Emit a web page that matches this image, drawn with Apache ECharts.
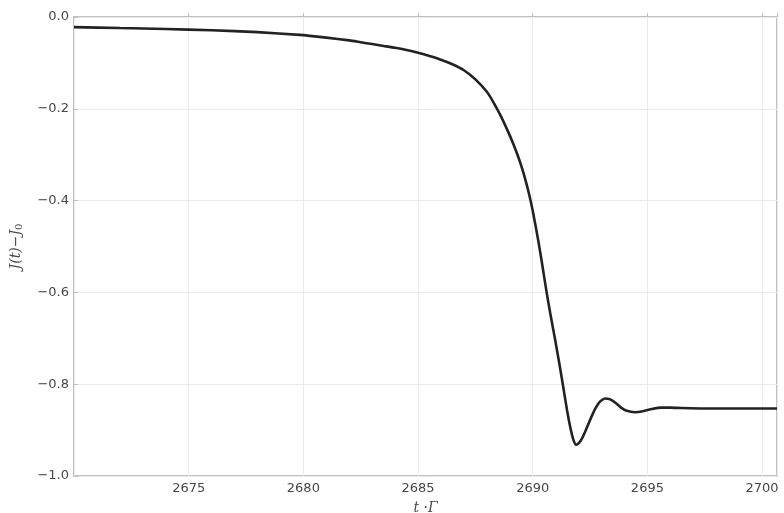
<!DOCTYPE html>
<html>
<head>
<meta charset="utf-8">
<script src="https://cdn.jsdelivr.net/npm/echarts@6/dist/echarts.min.js"></script>
<style>
  html, body { margin: 0; padding: 0; background: #fff; }
  #chart { width: 784px; height: 513px; }
</style>
</head>
<body>
<div id="chart"></div>
<script>
// Time samples (t·Γ) and the current difference J(t) − J0
const tValues = [
  2670.0, 2672.0, 2674.0, 2676.0, 2678.0, 2679.84, 2681.0, 2682.0, 2682.5, 2683.0,
  2683.5, 2684.0, 2684.5, 2685.0, 2685.5, 2686.0, 2686.5, 2687.0, 2687.5, 2688.0,
  2688.3, 2688.6, 2688.9, 2689.15, 2689.37, 2689.55, 2689.72, 2689.86, 2690.0, 2690.24,
  2690.4, 2690.59, 2690.78, 2690.98, 2691.15, 2691.33, 2691.5, 2691.63, 2691.76, 2691.89,
  2692.02, 2692.15, 2692.28, 2692.5, 2692.71, 2692.93, 2693.15, 2693.38, 2693.62, 2693.85,
  2694.1, 2694.45, 2694.8, 2695.2, 2695.6, 2696.0, 2696.5, 2697.5, 2699.0, 2700.65
];
const jValues = [
  -0.022, -0.024, -0.026, -0.029, -0.033, -0.039, -0.045, -0.051, -0.055, -0.059,
  -0.063, -0.067, -0.072, -0.078, -0.085, -0.093, -0.103, -0.116, -0.136, -0.163,
  -0.187, -0.215, -0.247, -0.276, -0.305, -0.332, -0.362, -0.390, -0.422, -0.487,
  -0.535, -0.595, -0.650, -0.704, -0.752, -0.806, -0.858, -0.892, -0.919, -0.932,
  -0.928, -0.918, -0.904, -0.878, -0.855, -0.838, -0.831, -0.833, -0.841, -0.851,
  -0.858, -0.861, -0.859, -0.854, -0.851, -0.851, -0.852, -0.853, -0.853, -0.853
];
const xTicks = [2675, 2680, 2685, 2690, 2695, 2700];
const yTicks = [0.0, -0.2, -0.4, -0.6, -0.8, -1.0];

const series = tValues.map((t, i) => [t, jValues[i]]);
const labelColor = '#474747';
const fontFamily = '"DejaVu Sans", sans-serif';

const chart = echarts.init(document.getElementById('chart'), null, { renderer: 'canvas' });
chart.setOption({
  animation: false,
  backgroundColor: '#fff',
  grid: {
    left: 74, right: 7, top: 17, bottom: 37,
    outerBoundsMode: 'none',
    containLabel: false,
    show: true, borderColor: '#c0c0c0', borderWidth: 2, backgroundColor: 'transparent'
  },
  xAxis: {
    type: 'value',
    min: 2670, max: 2700.65,
    interval: 5,
    name: 't ·Γ',
    nameLocation: 'middle',
    nameGap: 25,
    nameTextStyle: { fontFamily: 'DejaVu Serif, serif', fontStyle: 'italic', fontSize: 14, color: labelColor },
    axisLine: { show: false },
    axisTick: { show: true, inside: true, length: 4, lineStyle: { color: '#c0c0c0' } },
    splitLine: { show: true, lineStyle: { color: '#ebebeb', width: 1 } },
    axisLabel: {
      fontFamily: fontFamily, fontSize: 13, color: labelColor, margin: 6,
      formatter: v => (xTicks.includes(v) ? String(v) : ''),
      showMinLabel: false
    }
  },
  yAxis: {
    type: 'value',
    min: -1.0, max: 0.0,
    interval: 0.2,
    name: '{m|J(t)−J}{s|0}',
    nameLocation: 'middle',
    nameGap: 50,
    nameRotate: 90,
    nameTextStyle: {
      color: labelColor,
      rich: {
        m: { fontFamily: 'DejaVu Serif, serif', fontStyle: 'italic', fontSize: 14, color: labelColor },
        s: { fontFamily: 'DejaVu Serif, serif', fontSize: 10, color: labelColor, padding: [6, 0, 0, 0] }
      }
    },
    axisLine: { show: false },
    axisTick: { show: true, inside: true, length: 4, lineStyle: { color: '#c0c0c0' } },
    splitLine: { show: true, lineStyle: { color: '#ebebeb', width: 1 } },
    axisLabel: {
      fontFamily: fontFamily, fontSize: 13, color: labelColor, margin: 5,
      formatter: v => {
        const r = Math.round(v * 10) / 10;
        return r < 0 ? '−' + Math.abs(r).toFixed(1) : r.toFixed(1);
      }
    }
  },
  series: [{
    type: 'line',
    data: series,
    smooth: 0.2,
    showSymbol: false,
    lineStyle: { color: '#222', width: 2.6 },
    clip: true
  }]
});
</script>
</body>
</html>
